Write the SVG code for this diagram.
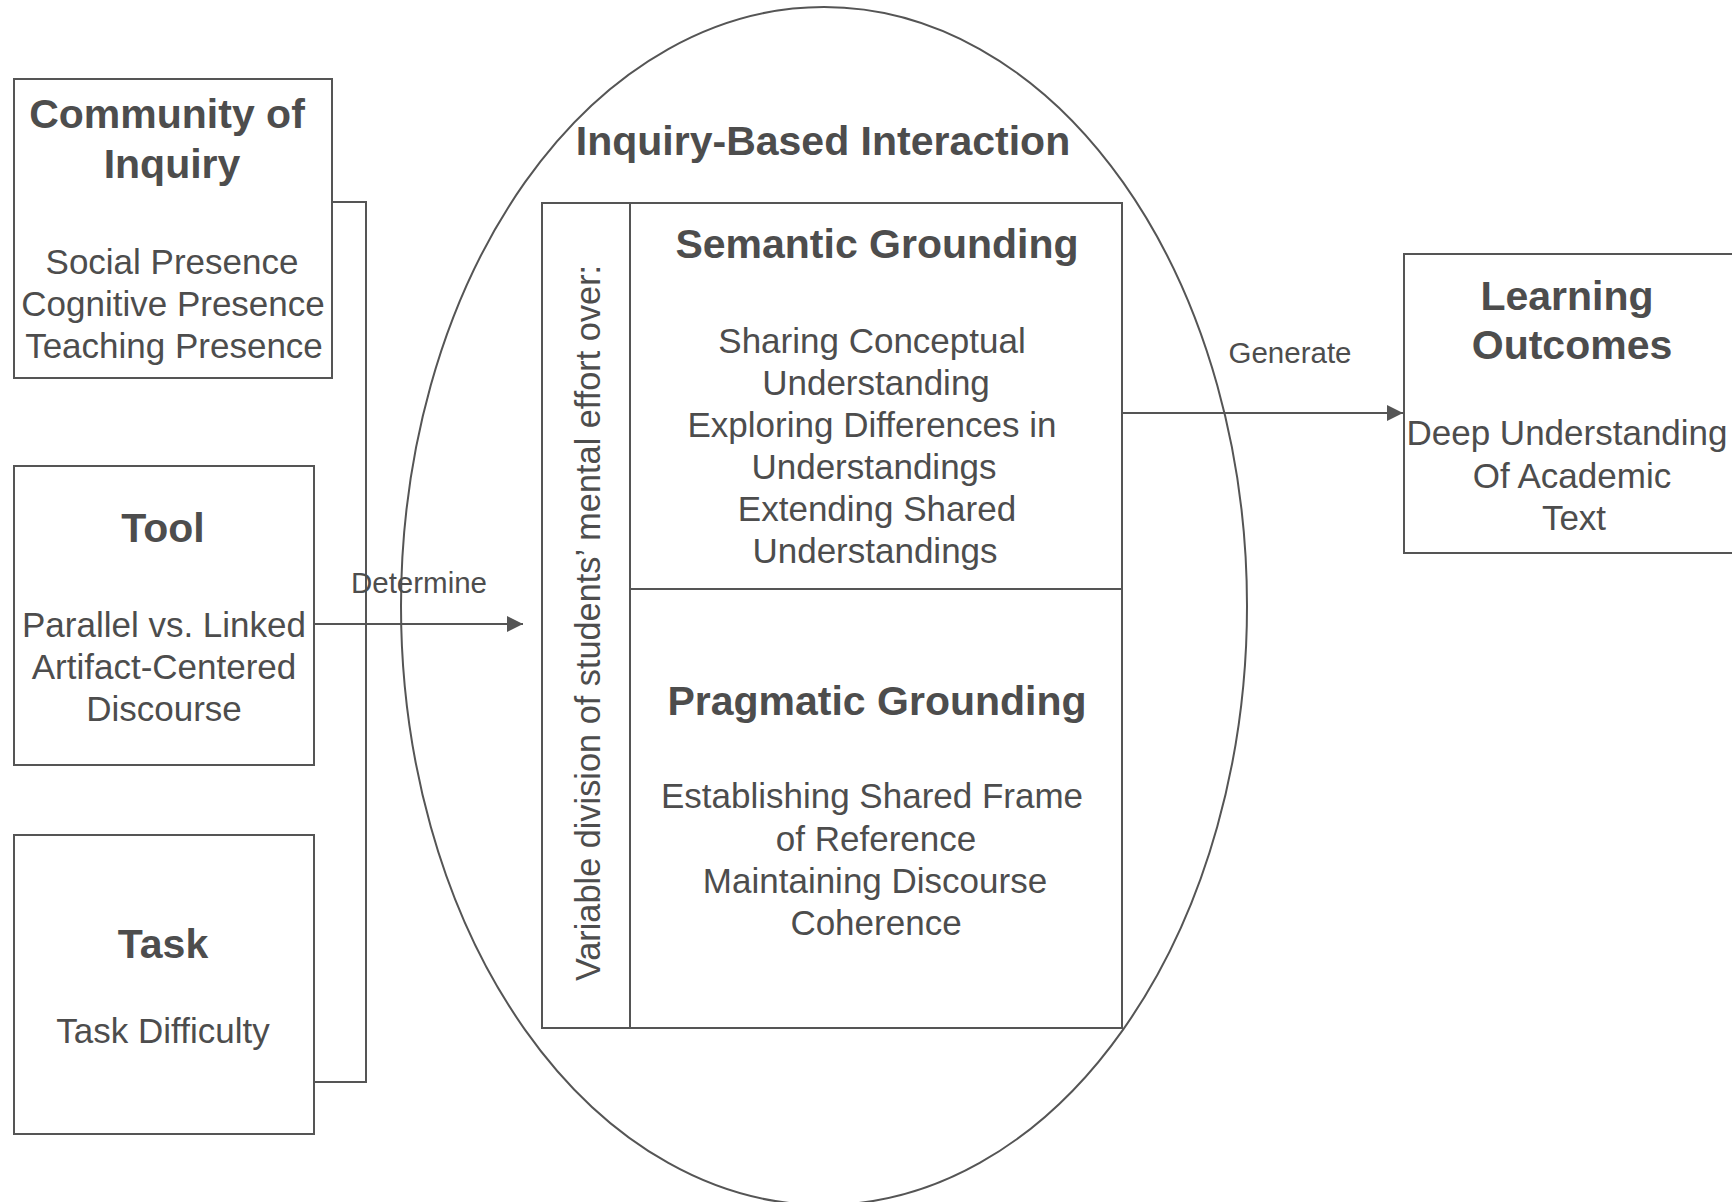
<svg xmlns="http://www.w3.org/2000/svg" width="1732" height="1202" viewBox="0 0 1732 1202">
  <style>
    .box { fill: none; stroke: #555555; stroke-width: 2; }
    .line { fill: none; stroke: #555555; stroke-width: 2; }
    text { font-family: "Liberation Sans", Arial, sans-serif; fill: #4d4d4d; text-anchor: middle; }
    .title { font-size: 41px; font-weight: bold; }
    .body { font-size: 35px; }
    .vert { font-size: 34.3px; }
    .label { font-size: 29.5px; }
  </style>
  <defs>
    <marker id="arrow" viewBox="0 0 16 16" refX="16" refY="8" markerWidth="16" markerHeight="16" markerUnits="userSpaceOnUse" orient="auto">
      <path d="M0,0 L16,8 L0,16 Z" fill="#555555"/>
    </marker>
  </defs>
  <rect width="1732" height="1202" fill="#ffffff"/>

  <g id="node-ibi">
    <ellipse class="box" cx="824" cy="606" rx="423" ry="599"/>
    <text class="title" x="823" y="155">Inquiry-Based Interaction</text>
  </g>

  <g id="node-coi">
    <rect class="box" x="14" y="79" width="318" height="299"/>
    <text class="title" x="167" y="128">Community of</text>
    <text class="title" x="172" y="178">Inquiry</text>
    <text class="body" x="172" y="274">Social Presence</text>
    <text class="body" x="173" y="316">Cognitive Presence</text>
    <text class="body" x="174" y="358">Teaching Presence</text>
  </g>

  <g id="node-tool">
    <rect class="box" x="14" y="466" width="300" height="299"/>
    <text class="title" x="163" y="542">Tool</text>
    <text class="body" x="164" y="637">Parallel vs. Linked</text>
    <text class="body" x="164" y="679">Artifact-Centered</text>
    <text class="body" x="164" y="721">Discourse</text>
  </g>

  <g id="node-task">
    <rect class="box" x="14" y="835" width="300" height="299"/>
    <text class="title" x="163" y="958">Task</text>
    <text class="body" x="163" y="1043">Task Difficulty</text>
  </g>

  <g id="node-division">
    <rect class="box" x="542" y="203" width="88" height="825"/>
    <text class="vert" transform="translate(600,623) rotate(-90)" x="0" y="0">Variable division of students’ mental effort over:</text>
  </g>

  <g id="node-semantic">
    <rect class="box" x="630" y="203" width="492" height="386"/>
    <text class="title" x="877" y="258">Semantic Grounding</text>
    <text class="body" x="872" y="353">Sharing Conceptual</text>
    <text class="body" x="876" y="395">Understanding</text>
    <text class="body" x="872" y="437">Exploring Differences in</text>
    <text class="body" x="874" y="479">Understandings</text>
    <text class="body" x="877" y="521">Extending Shared</text>
    <text class="body" x="875" y="563">Understandings</text>
  </g>

  <g id="node-pragmatic">
    <rect class="box" x="630" y="589" width="492" height="439"/>
    <text class="title" x="877" y="715">Pragmatic Grounding</text>
    <text class="body" x="872" y="808">Establishing Shared Frame</text>
    <text class="body" x="876" y="851">of Reference</text>
    <text class="body" x="875" y="893">Maintaining Discourse</text>
    <text class="body" x="876" y="935">Coherence</text>
  </g>

  <g id="node-outcomes">
    <rect class="box" x="1404" y="254" width="340" height="299"/>
    <text class="title" x="1567" y="310">Learning</text>
    <text class="title" x="1572" y="359">Outcomes</text>
    <text class="body" x="1567" y="445">Deep Understanding</text>
    <text class="body" x="1572" y="488">Of Academic</text>
    <text class="body" x="1574" y="530">Text</text>
  </g>

  <g id="connectors">
    <polyline class="line" points="332,202 366,202 366,1082 314,1082"/>
    <line class="line" x1="314" y1="624" x2="523" y2="624" marker-end="url(#arrow)"/>
    <text class="label" x="419" y="593">Determine</text>
    <line class="line" x1="1122" y1="413" x2="1403" y2="413" marker-end="url(#arrow)"/>
    <text class="label" x="1290" y="363">Generate</text>
  </g>
</svg>
